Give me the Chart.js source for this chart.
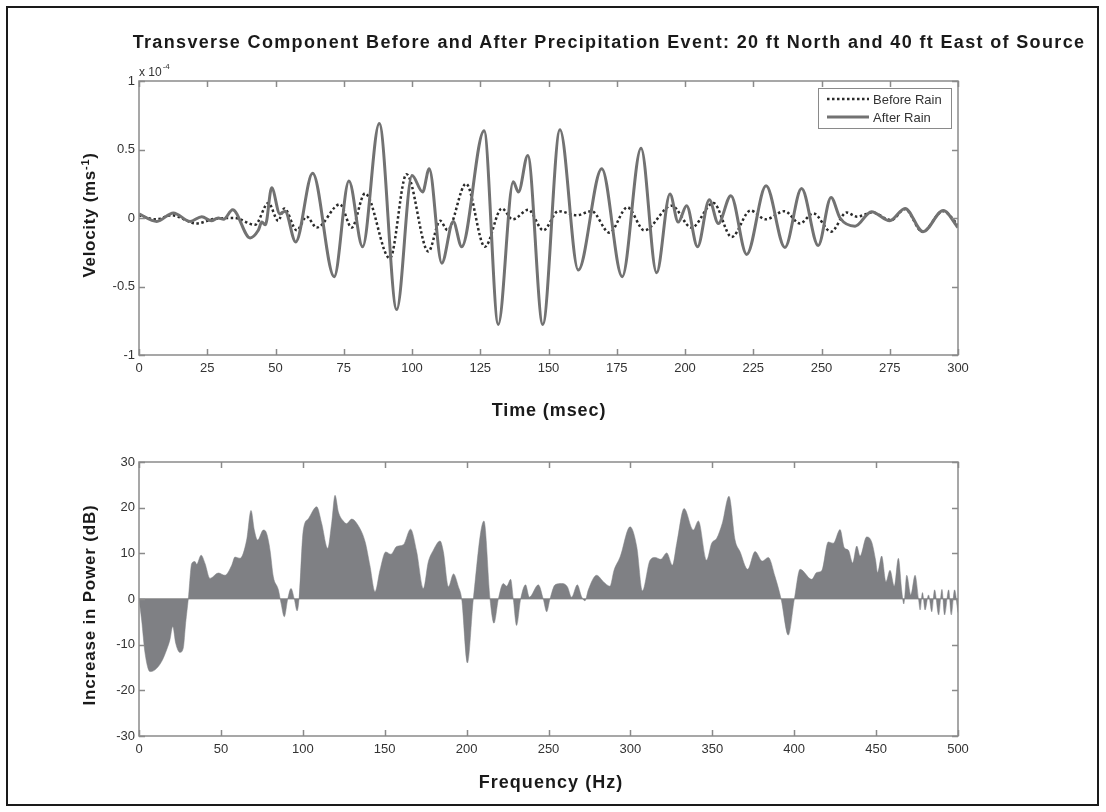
<!DOCTYPE html>
<html><head><meta charset="utf-8">
<script src="https://cdn.jsdelivr.net/npm/chart.js@4.4.1/dist/chart.umd.min.js"></script>
<style>
html,body{margin:0;padding:0;background:#fff;}
#wrap{position:relative;width:1106px;height:812px;overflow:hidden;background:#fff;}
#frame{position:absolute;left:6px;top:6px;width:1089px;height:796px;border:2px solid #1a1a1a;pointer-events:none;}
.txt{position:absolute;white-space:nowrap;font-family:"Liberation Sans",Arial,sans-serif;font-weight:bold;color:#1a1a1a;line-height:1;transform:translate(-50%,-50%);}
.vert{transform:translate(-50%,-50%) rotate(-90deg);}
#title{left:609px;top:42px;font-size:18px;letter-spacing:1.35px;}
#xt1{left:549px;top:410px;font-size:18px;letter-spacing:0.9px;}
#xt2{left:551px;top:782px;font-size:18px;letter-spacing:1.05px;}
#yt1{left:89px;top:215px;font-size:17px;letter-spacing:0.7px;}
#yt2{left:89px;top:605px;font-size:17px;letter-spacing:0.8px;}
canvas{position:absolute;left:0;}
#c1{top:0;}
#c2{top:430px;}
</style>
</head><body>
<div id="wrap">
<canvas id="c1" width="1106" height="430"></canvas>
<canvas id="c2" width="1106" height="382"></canvas>
<div class="txt" id="title">Transverse Component Before and After Precipitation Event: 20 ft North and 40 ft East of Source</div>
<div class="txt" id="xt1">Time (msec)</div>
<div class="txt" id="xt2">Frequency (Hz)</div>
<div class="txt vert" id="yt1">Velocity (ms<sup style="font-size:11px;vertical-align:6px;line-height:0">-1</sup>)</div>
<div class="txt vert" id="yt2">Increase in Power (dB)</div>
<div id="frame"></div>
</div>
<script>
// ---- data (velocity in units of 1e-4 m/s) ----
const timeTicks = [0,25,50,75,100,125,150,175,200,225,250,275,300];
const velTicks = [-1,-0.5,0,0.5,1];
const velTickLabels = ['-1','-0.5','0','0.5','1'];

const beforeTime = [0,6,12,21,27.9,35,42.5,47.4,51,53.2,57.8,61.4,65.1,73.6,77.9,82.8,91.9,98,106,110.3,113,119.8,126.7,132.9,136.9,142.6,148.1,153.6,160.3,165.8,172.3,178.9,185.1,195.1,202.4,210.4,217.1,224,229.5,236.5,242.1,247,253.5,259.2,263,268.5,275.5,280.6,287,294.5,300];
const beforeVel = [0.02,-0.01,0.02,-0.04,-0.005,0.0,-0.05,0.11,-0.02,0.07,-0.09,0.01,-0.07,0.10,-0.07,0.18,-0.295,0.32,-0.245,-0.02,-0.088,0.25,-0.21,0.07,-0.01,0.06,-0.09,0.05,0.02,0.05,-0.107,0.078,-0.09,0.09,-0.07,0.11,-0.139,0.055,-0.01,0.05,-0.04,0.034,-0.1,0.04,0.01,0.04,-0.015,0.065,-0.1,0.05,-0.05];

const afterTime = [0,6.5,12.6,18.7,23,26.5,29,31,34.3,40.7,43.7,45,46.3,48.6,51.6,53.5,57.4,63.6,71.5,76.9,81.9,88,94.4,100,103.9,106.3,110.9,115.1,118.2,126.4,131.6,137.1,139,142.4,147.9,154.2,160.9,169.5,177,183.9,189.6,194.5,197.5,200.6,204.6,208.9,212.2,216.8,222.6,229.7,236.6,242.7,248.8,253.5,256.8,262.3,268.3,275,280.6,287.2,294.6,300];
const afterVel = [0.03,-0.025,0.037,-0.025,0.01,-0.02,0.0,-0.01,0.06,-0.146,-0.09,-0.03,-0.05,0.22,0.03,0.05,-0.175,0.327,-0.428,0.27,-0.21,0.69,-0.668,0.31,0.19,0.36,-0.33,-0.025,-0.21,0.637,-0.777,0.264,0.19,0.457,-0.777,0.644,-0.38,0.36,-0.428,0.51,-0.40,0.175,-0.03,0.09,-0.21,0.134,-0.04,0.163,-0.266,0.235,-0.215,0.215,-0.2,0.15,0.0,-0.06,0.046,-0.02,0.07,-0.1,0.055,-0.07];

const freqTicks = [0,50,100,150,200,250,300,350,400,450,500];
const powerTicks = [-30,-20,-10,0,10,20,30];

const freqHz = [0,1.6,3.7,6.7,9.8,13.8,16.9,18.9,20.6,22.4,25,27,28.5,30.1,32.2,34.2,35.2,37.9,40.3,43.3,48.4,52.5,56.6,58.6,61.7,65.7,68.4,70.4,72.4,75.9,77.9,80,82,85.1,86.7,88.7,90.8,92.8,94.8,96.5,97.7,100.3,103.4,108.5,111.5,115.2,117.6,119.7,121.7,124.9,126.8,129.8,132.9,138,141,144.1,147.1,150.6,153.8,157.3,161.4,165.8,169.5,173.6,176.6,179.7,183.8,185.8,188.9,192,195,197,200.5,204.1,210.6,214.3,216.7,219.4,222.4,224.5,226.9,228.5,230.5,233,236,238.3,243.8,246.8,248.9,250.9,254,258,261.5,264.1,267.6,270.2,272.3,274.3,279.4,283.5,287.5,290,293.7,299.8,303.9,307.3,312,315.1,318.5,322.2,325.7,328.3,332.8,338.4,341.5,346.5,349.6,352.7,356.1,360.2,363.9,366.9,371.6,376.1,380.5,384.2,388.3,392,396.4,400.1,403.6,410.7,413.7,416.8,420.8,423.9,428,430.6,433.1,435.7,438.2,440.2,444.2,447.3,449.7,450.9,453.4,456,458.5,461.1,463.6,465.6,466.9,468.7,471.2,473.8,475.9,476.9,478.3,479.9,482,484,485.7,488.2,490.2,491.8,494.3,495.9,497.9,500];
const powerDb = [0,-4.6,-11.9,-15.9,-15.5,-13.7,-11.1,-8.9,-6.0,-9.7,-11.7,-10.8,-5.2,0,7.8,8.2,7.6,9.6,7.8,4.5,5.7,5.2,7.4,9.2,8.9,12.9,19.4,15.1,12.9,15.1,14.4,10.7,4.9,2.0,-0.9,-3.9,0,2.3,0,-2.6,0,15.1,17.6,20.2,16.6,11.1,16.6,22.7,19.1,17.0,16.5,17.5,16.6,12.6,7.3,1.6,6.3,10.3,9.8,11.5,11.9,15.3,10.4,2.3,8.1,10.7,12.7,10.4,2.7,5.5,2.7,0,-14.0,0,17.1,0,-5.3,0,3.4,2.8,4.3,0,-5.8,0,3.1,0.4,3.1,0,-2.8,0,3.1,3.4,2.7,0.4,3.1,0.5,-0.4,2.0,5.2,3.8,2.8,6.3,9.2,15.8,11.4,1.8,8.5,9.1,8.7,10.1,7.4,12.2,19.8,15.1,17.1,8.5,12.2,13.3,16.6,22.5,12.9,10.4,6.5,10.4,8.3,9.1,4.9,0,-7.9,0,6.5,4.3,5.8,6.2,12.5,12.2,15.2,11.2,10.7,7.9,11.6,9.4,13.6,12.5,8.5,5.8,9.4,3.8,6.3,2.8,8.9,2.0,-1.1,5.2,0.9,5.2,0,-2.4,1.4,-2.4,0.9,-2.8,2.0,-3.5,2.1,-3.5,2.0,-3.5,2.0,-3.0];

// ---- styling ----
const FF = '"Liberation Sans", Arial, Helvetica, sans-serif';
const AXIS_COL = '#8a8a8a';
const TXT_COL = '#333333';

function fixedTicks(arr){ return s => { s.ticks = arr.map(v => ({value: v})); }; }
function pts(xs, ys){ return xs.map((x,i) => ({x: x, y: ys[i]})); }

const boxPlugin = {
  id: 'boxTicks',
  afterDatasetsDraw(chart) {
    const {ctx, chartArea: a, scales} = chart;
    ctx.save();
    ctx.strokeStyle = AXIS_COL;
    ctx.lineWidth = 1.5;
    const L = 6;
    ctx.beginPath();
    scales.x.ticks.forEach(t => {
      const px = Math.round(scales.x.getPixelForValue(t.value)) + 0.5;
      ctx.moveTo(px, a.bottom); ctx.lineTo(px, a.bottom - L);
      ctx.moveTo(px, a.top); ctx.lineTo(px, a.top + L);
    });
    scales.y.ticks.forEach(t => {
      const py = Math.round(scales.y.getPixelForValue(t.value)) + 0.5;
      ctx.moveTo(a.left, py); ctx.lineTo(a.left + L, py);
      ctx.moveTo(a.right, py); ctx.lineTo(a.right - L, py);
    });
    ctx.stroke();
    ctx.strokeRect(a.left, a.top, a.right - a.left, a.bottom - a.top);
    ctx.restore();
  }
};

const extrasPlugin = {
  id: 'extras',
  afterDraw(chart) {
    const {ctx, chartArea: a} = chart;
    ctx.save();
    // exponent label
    ctx.fillStyle = TXT_COL;
    ctx.textBaseline = 'alphabetic';
    ctx.textAlign = 'left';
    ctx.font = '12px ' + FF;
    ctx.fillText('x 10', a.left, a.top - 5);
    const w = ctx.measureText('x 10').width;
    ctx.font = '8px ' + FF;
    ctx.fillText('-4', a.left + w + 1, a.top - 12);
    // legend
    const bw = 133, bh = 40;
    const bx = a.right - 7 - bw, by = a.top + 7;
    ctx.fillStyle = '#fff';
    ctx.fillRect(bx, by, bw, bh);
    ctx.strokeStyle = '#8a8a8a';
    ctx.lineWidth = 1;
    ctx.strokeRect(bx + 0.5, by + 0.5, bw, bh);
    chart.data.datasets.forEach((ds, i) => {
      const ly = by + 11 + i * 18;
      ctx.strokeStyle = ds.borderColor;
      ctx.lineWidth = ds.borderWidth;
      ctx.setLineDash(ds.borderDash || []);
      ctx.beginPath(); ctx.moveTo(bx + 9, ly); ctx.lineTo(bx + 51, ly); ctx.stroke();
      ctx.setLineDash([]);
      ctx.fillStyle = TXT_COL;
      ctx.font = '13px ' + FF;
      ctx.textBaseline = 'middle';
      ctx.fillText(ds.label, bx + 55, ly + 1);
    });
    ctx.restore();
  }
};

function tickStyle(extra) {
  return Object.assign({color: TXT_COL, font: {size: 13, family: FF}, autoSkip: false, maxRotation: 0}, extra);
}

new Chart(document.getElementById('c1'), {
  type: 'line',
  data: {datasets: [
    {label: 'Before Rain', data: pts(beforeTime, beforeVel), borderColor: '#2a2a2a', borderWidth: 2.5, borderDash: [2.5, 2.5],
     pointRadius: 0, cubicInterpolationMode: 'monotone', fill: false, order: 1},
    {label: 'After Rain', data: pts(afterTime, afterVel), borderColor: '#727272', borderWidth: 3,
     pointRadius: 0, cubicInterpolationMode: 'monotone', fill: false, order: 0}
  ]},
  options: {
    responsive: false, animation: false, devicePixelRatio: 1,
    layout: {padding: {top: 81, right: 148, left: 0, bottom: 0}},
    plugins: {legend: {display: false}, tooltip: {enabled: false}},
    scales: {
      x: {type: 'linear', min: 0, max: 300, afterBuildTicks: fixedTicks(timeTicks), afterFit: s => { s.height = 75; },
          grid: {display: false, drawTicks: false}, border: {display: false},
          ticks: tickStyle({padding: 6, callback: v => String(v)})},
      y: {type: 'linear', min: -1, max: 1, afterBuildTicks: fixedTicks(velTicks), afterFit: s => { s.width = 139; },
          grid: {display: false, drawTicks: false}, border: {display: false},
          ticks: tickStyle({padding: 4, callback: v => velTickLabels[velTicks.indexOf(v)]})}
    }
  },
  plugins: [boxPlugin, extrasPlugin]
});

new Chart(document.getElementById('c2'), {
  type: 'line',
  data: {datasets: [
    {label: 'Increase in Power', data: pts(freqHz, powerDb), borderColor: '#7f8084', borderWidth: 0.5,
     backgroundColor: '#7f8084', pointRadius: 0, cubicInterpolationMode: 'monotone', fill: 'origin'}
  ]},
  options: {
    responsive: false, animation: false, devicePixelRatio: 1,
    layout: {padding: {top: 32, right: 148, left: 0, bottom: 0}},
    plugins: {legend: {display: false}, tooltip: {enabled: false}},
    scales: {
      x: {type: 'linear', min: 0, max: 500, afterBuildTicks: fixedTicks(freqTicks), afterFit: s => { s.height = 76; },
          grid: {display: false, drawTicks: false}, border: {display: false},
          ticks: tickStyle({padding: 6, callback: v => String(v)})},
      y: {type: 'linear', min: -30, max: 30, afterBuildTicks: fixedTicks(powerTicks), afterFit: s => { s.width = 139; },
          grid: {drawTicks: false, drawOnChartArea: true, color: c => (c.tick && c.tick.value === 0) ? '#a3a3a3' : 'rgba(0,0,0,0)', lineWidth: 1.5},
          border: {display: false},
          ticks: tickStyle({padding: 4, callback: v => String(v)})}
    }
  },
  plugins: [boxPlugin]
});
</script>
</body></html>
